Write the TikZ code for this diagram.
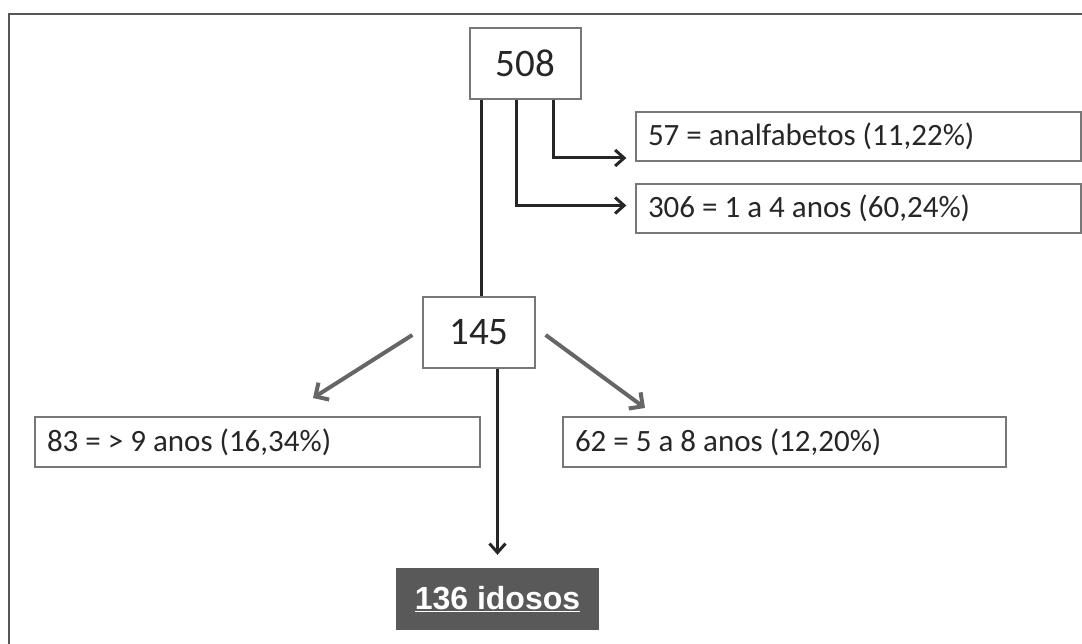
\documentclass[tikz,border=0pt]{standalone}
\usepackage{fontspec}
\setmainfont{Carlito}
\newfontfamily\arialbf{Liberation Sans}[BoldFont={Liberation Sans Bold}]
\usetikzlibrary{arrows.meta}
\definecolor{framegray}{HTML}{555555}
\definecolor{boxgray}{HTML}{777777}
\definecolor{arrgray}{HTML}{666666}
\definecolor{darkfill}{HTML}{595959}
\tikzset{
  numbox/.style={draw=boxgray, line width=1.3pt, minimum width=111pt, minimum height=71pt, inner sep=0pt, font=\fontsize{39}{44}\selectfont, text=black!85},
  infobox/.style={draw=boxgray, line width=1.3pt, minimum height=49pt, inner xsep=12pt, inner ysep=0pt, font=\fontsize{31}{35}\selectfont, text=black!85, execute at begin node={\spaceskip=0pt\xspaceskip=0pt}},
  blackarr/.style={line width=3pt, black!85, -{Straight Barb[length=9pt,width=16pt,line width=3pt]}},
  grayarr/.style={line width=4pt, arrgray, -{Straight Barb[length=10pt,width=20pt,line width=4pt]}},
  blackline/.style={line width=3pt, black!85}
}
\begin{document}
\begin{tikzpicture}[x=1pt,y=-1pt]
\useasboundingbox (0,0) rectangle (1082,644);
\draw[framegray, line width=2pt] (1083,14) -- (9,14) -- (9,645);

\node[numbox] (n508) at (525.5,63.5) {508};
\node[infobox, text width=421pt] (n57) at (858.5,136.5) {57 = analfabetos (11,22\%)};
\node[infobox, text width=421pt] (n306) at (858.5,208.5) {306 = 1 a 4 anos (60,24\%)};
\node[numbox, minimum width=112pt] (n145) at (479,332.5) {145};
\node[infobox, text width=421pt, minimum height=50pt] (n83) at (257.5,442) {83 = > 9 anos (16,34\%)};
\node[infobox, text width=419pt, minimum height=50pt] (n62) at (784.5,442) {62 = 5 a 8 anos (12,20\%)};
\node[fill=darkfill, minimum width=203pt, minimum height=62pt, inner sep=0pt, text=white, font=\arialbf\bfseries\fontsize{32}{36}\selectfont] (n136) at (497.5,599) {\underline{136 idosos}};

\coordinate (l1) at (313,398);
\coordinate (r1) at (645,408);

\draw[blackline] ([xshift=-44.5pt]n508.south) -- ([xshift=2pt]n145.north);
\draw[blackarr] ([xshift=-9.5pt]n508.south) |- ([xshift=-9pt,yshift=3pt]n306.west);
\draw[blackarr] ([xshift=27.5pt]n508.south) |- ([xshift=-9pt,yshift=-21.5pt]n57.west);
\draw[grayarr] ([xshift=-10pt,yshift=-2.5pt]n145.west) -- (l1);
\draw[grayarr] ([xshift=10pt,yshift=-2.5pt]n145.east) -- (r1);
\draw[blackarr] (n145.south -| n136.north) -- ([yshift=13pt]n136.north);
\end{tikzpicture}
\end{document}
